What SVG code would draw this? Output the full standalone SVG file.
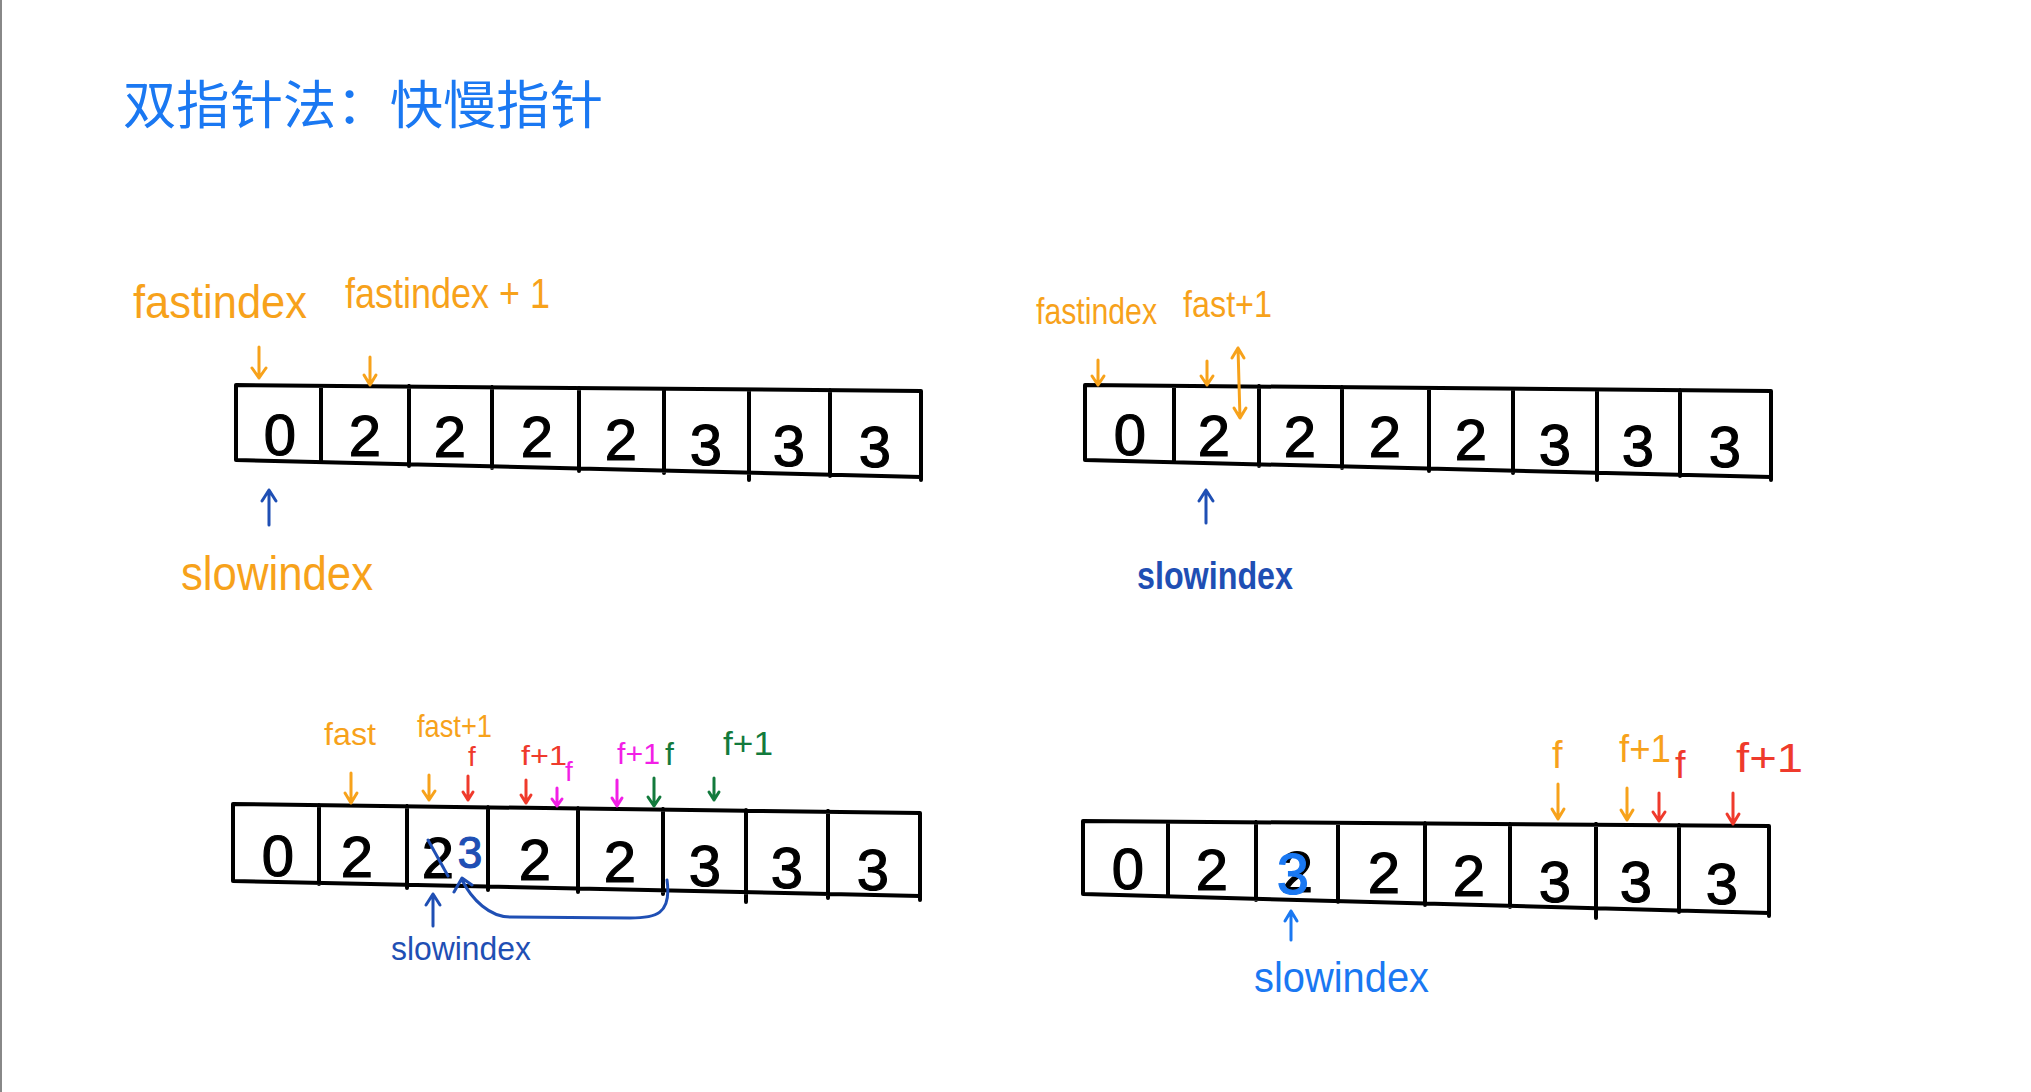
<svg xmlns="http://www.w3.org/2000/svg" width="2031" height="1092" viewBox="0 0 2031 1092">
<defs>
<style>
.cell{fill:none;stroke:#000;stroke-width:4;stroke-linecap:round;stroke-linejoin:round}
.dig{font-family:"Liberation Sans",Arial,sans-serif;font-size:58px;fill:#000;stroke:#000;stroke-width:1.2;text-anchor:middle}
.lbl{font-family:"Liberation Sans",Arial,sans-serif;}
.arr{fill:none;stroke-width:3;stroke-linecap:round;stroke-linejoin:round}
.or{fill:#f7a21b}.ors{stroke:#f7a21b}
.rd{fill:#ef3a2c}.rds{stroke:#ef3a2c}
.mg{fill:#f21fe6}.mgs{stroke:#f21fe6}
.gr{fill:#127a3c}.grs{stroke:#127a3c}
.db{fill:#1f4fb4}.dbs{stroke:#1f4fb4}
.bb{fill:#1a78f2}.bbs{stroke:#1a78f2}
</style>
</defs>
<rect width="2031" height="1092" fill="#fff"/>
<line x1="1" y1="0" x2="1" y2="1092" stroke="#888" stroke-width="2"/>

<g id="title">
<text x="123" y="124" font-family="Noto Sans CJK SC, sans-serif" font-size="52" class="bb" textLength="480" lengthAdjust="spacingAndGlyphs">双指针法：快慢指针</text>
</g>

<g id="array1">
<path class="cell" d="M236,385 L921,391 M236,460 L921,477 M236,385 L236,460 M321,386 L321,462 M409,386 L409,466 M492,387 L492,468 M579,388 L579,471 M664,389 L664,473 M749,390 L749,480 M830,390 L830,476 M921,391 L921,480"/>
<text class="dig" x="280" y="455">0</text>
<text class="dig" x="365" y="456">2</text>
<text class="dig" x="450" y="457">2</text>
<text class="dig" x="537" y="457">2</text>
<text class="dig" x="621" y="460">2</text>
<text class="dig" x="706" y="465">3</text>
<text class="dig" x="789" y="466">3</text>
<text class="dig" x="875" y="467">3</text>
</g>
<g id="labels1">
<text class="lbl or" x="133" y="318" font-size="46" textLength="174" lengthAdjust="spacingAndGlyphs">fastindex</text>
<text class="lbl or" x="345" y="308" font-size="42" textLength="205" lengthAdjust="spacingAndGlyphs">fastindex + 1</text>
<text class="lbl or" x="181" y="590" font-size="48" textLength="192" lengthAdjust="spacingAndGlyphs">slowindex</text>
</g>

<g id="array2">
<path class="cell" d="M1085,385 L1771,391 M1085,460 L1771,477 M1085,385 L1085,460 M1174,386 L1174,462 M1259,386 L1259,466 M1342,387 L1342,468 M1429,388 L1429,471 M1513,389 L1513,473 M1597,390 L1597,480 M1680,390 L1680,476 M1771,391 L1771,480"/>
<text class="dig" x="1130" y="455">0</text>
<text class="dig" x="1214" y="456">2</text>
<text class="dig" x="1300" y="457">2</text>
<text class="dig" x="1385" y="457">2</text>
<text class="dig" x="1471" y="460">2</text>
<text class="dig" x="1555" y="465">3</text>
<text class="dig" x="1638" y="466">3</text>
<text class="dig" x="1725" y="467">3</text>
</g>
<g id="labels2">
<text class="lbl or" x="1036" y="324" font-size="36" textLength="121" lengthAdjust="spacingAndGlyphs">fastindex</text>
<text class="lbl or" x="1183" y="317" font-size="36" textLength="89" lengthAdjust="spacingAndGlyphs">fast+1</text>
<text class="lbl db" x="1137" y="589" font-size="38" font-weight="bold" textLength="156" lengthAdjust="spacingAndGlyphs">slowindex</text>
</g>

<g id="array3">
<path class="cell" d="M233,804 L920,813 M233,881 L920,896 M233,804 L233,881 M319,805 L319,884 M407,806 L407,888 M488,807 L488,890 M578,808 L578,892 M663,809 L663,894 M746,810 L746,902 M828,811 L828,898 M920,813 L920,900"/>
<text class="dig" x="278" y="876">0</text>
<text class="dig" x="357" y="877">2</text>
<text class="dig" x="438" y="878">2</text>
<text class="dig" x="470" y="868" style="fill:#1f4fb4;stroke:#1f4fb4;font-size:44px">3</text>
<path class="arr dbs" d="M428,840 L448,876"/>
<text class="dig" x="535" y="880">2</text>
<text class="dig" x="620" y="882">2</text>
<text class="dig" x="705" y="886">3</text>
<text class="dig" x="787" y="888">3</text>
<text class="dig" x="873" y="890">3</text>
</g>
<g id="labels3">
<text class="lbl or" x="324" y="745" font-size="32" textLength="52" lengthAdjust="spacingAndGlyphs">fast</text>
<text class="lbl or" x="417" y="737" font-size="32" textLength="75" lengthAdjust="spacingAndGlyphs">fast+1</text>
<text class="lbl rd" x="468" y="766" font-size="28">f</text>
<text class="lbl rd" x="521" y="765" font-size="28" textLength="46" lengthAdjust="spacingAndGlyphs">f+1</text>
<text class="lbl mg" x="565" y="781" font-size="28">f</text>
<text class="lbl mg" x="617" y="764" font-size="30" textLength="43" lengthAdjust="spacingAndGlyphs">f+1</text>
<text class="lbl gr" x="665" y="765" font-size="32">f</text>
<text class="lbl gr" x="723" y="755" font-size="34" textLength="50" lengthAdjust="spacingAndGlyphs">f+1</text>
<text class="lbl db" x="391" y="960" font-size="34" textLength="140" lengthAdjust="spacingAndGlyphs">slowindex</text>
</g>

<g id="array4">
<path class="cell" d="M1083,821 L1769,826 M1083,894 L1769,913 M1083,821 L1083,894 M1168,822 L1168,896 M1256,822 L1256,900 M1338,823 L1338,902 M1425,823 L1425,905 M1510,824 L1510,907 M1596,824 L1596,918 M1679,825 L1679,912 M1769,826 L1769,916"/>
<text class="dig" x="1128" y="889">0</text>
<text class="dig" x="1212" y="890">2</text>
<text class="dig" x="1297" y="892">2</text>
<text class="dig" x="1293" y="894" style="fill:#1a78f2;stroke:#1a78f2">3</text>
<text class="dig" x="1384" y="893">2</text>
<text class="dig" x="1469" y="896">2</text>
<text class="dig" x="1555" y="902">3</text>
<text class="dig" x="1636" y="902">3</text>
<text class="dig" x="1722" y="904">3</text>
</g>
<g id="labels4">
<text class="lbl or" x="1552" y="768" font-size="38">f</text>
<text class="lbl or" x="1619" y="762" font-size="38" textLength="52" lengthAdjust="spacingAndGlyphs">f+1</text>
<text class="lbl rd" x="1675" y="778" font-size="38">f</text>
<text class="lbl rd" x="1736" y="772" font-size="40" textLength="67" lengthAdjust="spacingAndGlyphs">f+1</text>
<text class="lbl bb" x="1254" y="992" font-size="42" textLength="175" lengthAdjust="spacingAndGlyphs">slowindex</text>
</g>

<g id="connectors">
<path class="arr ors" d="M259,347 L259,378 M252,368 L259,378 L266,368"/>
<path class="arr ors" d="M370,357 L370,385 M364,375 L370,385 L376,375"/>
<path class="arr dbs" d="M269,525 L269,490 M262,501 L269,490 L276,501"/>

<path class="arr ors" d="M1098,360 L1098,385 M1092,376 L1098,385 L1104,376"/>
<path class="arr ors" d="M1207,361 L1207,385 M1201,376 L1207,385 L1213,376"/>
<path class="arr ors" d="M1238,348 L1240,418 M1232,358 L1238,348 L1244,358 M1234,408 L1240,418 L1246,408"/>
<path class="arr dbs" d="M1206,523 L1206,490 M1199,501 L1206,490 L1213,501"/>

<path class="arr ors" d="M351,773 L351,803 M345,793 L351,803 L357,793"/>
<path class="arr ors" d="M429,775 L429,800 M423,791 L429,800 L435,791"/>
<path class="arr rds" d="M468,776 L468,800 M463,792 L468,800 L473,792"/>
<path class="arr rds" d="M526,780 L526,803 M521,795 L526,803 L531,795"/>
<path class="arr mgs" d="M557,788 L557,806 M552,799 L557,806 L562,799"/>
<path class="arr mgs" d="M617,780 L617,806 M612,798 L617,806 L622,798"/>
<path class="arr grs" d="M654,778 L654,806 M648,797 L654,806 L660,797"/>
<path class="arr grs" d="M714,778 L714,800 M709,792 L714,800 L719,792"/>
<path class="arr dbs" d="M433,926 L433,894 M426,905 L433,894 L440,905"/>
<path class="arr dbs" d="M667,880 C672,915 655,918 630,918 L510,917 C490,917 472,900 462,880 M454,892 L462,878 L472,885"/>

<path class="arr ors" d="M1558,784 L1558,819 M1552,809 L1558,819 L1564,809"/>
<path class="arr ors" d="M1627,788 L1627,820 M1621,810 L1627,820 L1633,810"/>
<path class="arr rds" d="M1659,793 L1659,821 M1653,812 L1659,821 L1665,812"/>
<path class="arr rds" d="M1733,793 L1733,824 M1727,814 L1733,824 L1739,814"/>
<path class="arr bbs" d="M1291,940 L1291,911 M1285,921 L1291,911 L1297,921"/>
</g>
</svg>
